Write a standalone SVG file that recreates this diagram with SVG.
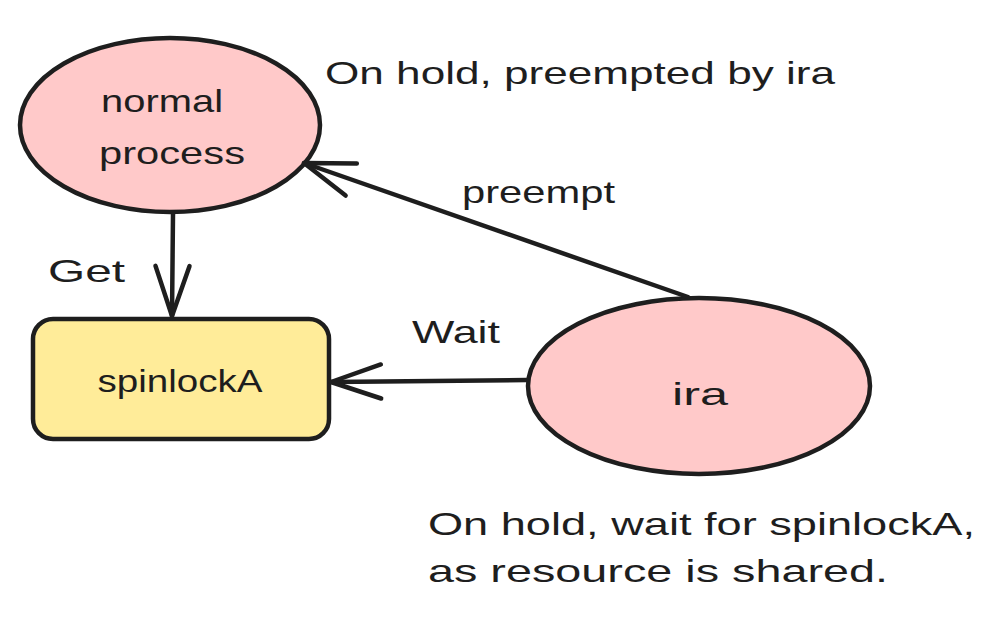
<svg xmlns="http://www.w3.org/2000/svg" width="1001" height="627" viewBox="0 0 1001 627">
<style>
.shape{stroke:#1e1e1e;stroke-width:4.5;}
.pink{fill:#ffc9c9;}
.yellow{fill:#ffec99;}
.t{font-family:"Liberation Sans","DejaVu Sans",sans-serif;font-size:32px;fill:#1e1e1e;}
.c{text-anchor:middle;}
.conn{fill:none;stroke:#1e1e1e;stroke-width:4.5;stroke-linecap:round;stroke-linejoin:round;}
</style>
<defs>
<marker id="arr" markerUnits="userSpaceOnUse" viewBox="-60 -25 70 50" refX="0" refY="0" markerWidth="70" markerHeight="50" orient="auto" overflow="visible">
<path d="M -50 -17 L 0 0 L -50 17" fill="none" stroke="#1e1e1e" stroke-width="4.5" stroke-linecap="round" stroke-linejoin="round"/>
</marker>
</defs>
<rect width="1001" height="627" fill="#ffffff"/>
<g id="node-normal-process">
<ellipse class="shape pink" cx="170" cy="125" rx="150" ry="87"/>
<text class="t c" x="162" y="112" textLength="122" lengthAdjust="spacingAndGlyphs">normal</text>
<text class="t c" x="172" y="164" textLength="146" lengthAdjust="spacingAndGlyphs">process</text>
</g>
<g id="node-spinlockA">
<rect class="shape yellow" x="33" y="319" width="296" height="120" rx="20" ry="20"/>
<text class="t c" x="180" y="392" textLength="165" lengthAdjust="spacingAndGlyphs">spinlockA</text>
</g>
<g id="node-ira">
<ellipse class="shape pink" cx="699" cy="386" rx="171" ry="88"/>
<text class="t c" x="700" y="405" textLength="56" lengthAdjust="spacingAndGlyphs">ira</text>
</g>
<g id="connectors">
<path class="conn" d="M 173 214 L 172 316" marker-end="url(#arr)"/>
<path class="conn" d="M 688 297 L 304 163" marker-end="url(#arr)"/>
<path class="conn" d="M 527 380 L 331 382" marker-end="url(#arr)"/>
<text class="t" x="48" y="282" textLength="77" lengthAdjust="spacingAndGlyphs">Get</text>
<text class="t" x="462" y="203" textLength="153" lengthAdjust="spacingAndGlyphs">preempt</text>
<text class="t" x="412" y="343" textLength="88" lengthAdjust="spacingAndGlyphs">Wait</text>
</g>
<g id="notes">
<text class="t" x="325" y="84" textLength="510" lengthAdjust="spacingAndGlyphs">On hold, preempted by ira</text>
<text class="t" x="428" y="535" textLength="547" lengthAdjust="spacingAndGlyphs">On hold, wait for spinlockA,</text>
<text class="t" x="428" y="582" textLength="460" lengthAdjust="spacingAndGlyphs">as resource is shared.</text>
</g>
</svg>
